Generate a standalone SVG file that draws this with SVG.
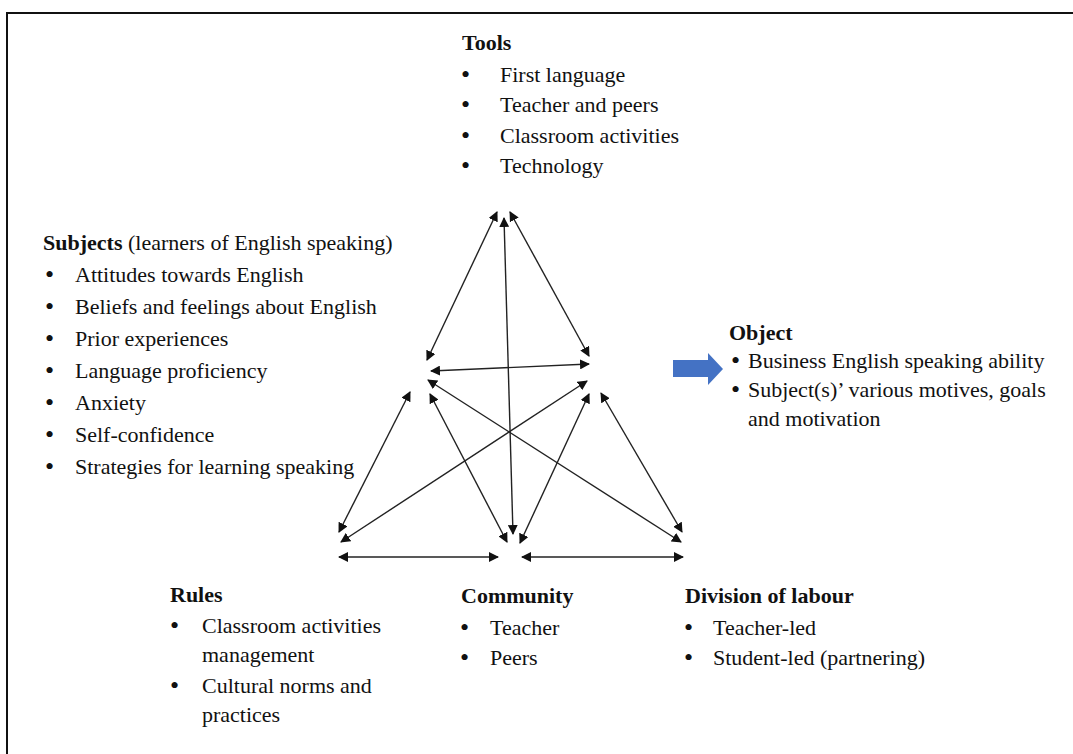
<svg xmlns="http://www.w3.org/2000/svg" width="1073" height="754" viewBox="0 0 1073 754">
<style>
text{font-family:"Liberation Serif","Times New Roman",serif;font-size:22px;fill:#111}
.h{font-weight:bold}
.b{font-size:26px}
.c{stroke:#222;stroke-width:1.4;fill:none;marker-start:url(#ah);marker-end:url(#ah)}
</style>
<defs>
<marker id="ah" viewBox="0 0 10 10" refX="9" refY="5" markerWidth="10" markerHeight="10" markerUnits="userSpaceOnUse" orient="auto-start-reverse">
<path d="M0,0 L10,5 L0,10 z" fill="#111"/>
</marker>
</defs>
<rect x="0" y="0" width="1073" height="754" fill="#fff"/>
<rect x="7" y="13" width="1090" height="760" fill="none" stroke="#111" stroke-width="2"/>

<g id="tools">
<text class="h" x="462" y="50">Tools</text>
<text class="b" x="461" y="83">•</text><text x="500" y="82">First language</text>
<text class="b" x="461" y="113">•</text><text x="500" y="112">Teacher and peers</text>
<text class="b" x="461" y="144">•</text><text x="500" y="143">Classroom activities</text>
<text class="b" x="461" y="174">•</text><text x="500" y="173">Technology</text>
</g>

<g id="subjects">
<text x="43" y="250"><tspan class="h">Subjects</tspan> (learners of English speaking)</text>
<text class="b" x="45" y="283">•</text><text x="75" y="282">Attitudes towards English</text>
<text class="b" x="45" y="315">•</text><text x="75" y="314">Beliefs and feelings about English</text>
<text class="b" x="45" y="347">•</text><text x="75" y="346">Prior experiences</text>
<text class="b" x="45" y="379">•</text><text x="75" y="378">Language proficiency</text>
<text class="b" x="45" y="411">•</text><text x="75" y="410">Anxiety</text>
<text class="b" x="45" y="443">•</text><text x="75" y="442">Self-confidence</text>
<text class="b" x="45" y="475">•</text><text x="75" y="474">Strategies for learning speaking</text>
</g>

<g id="object">
<text class="h" x="729" y="340">Object</text>
<text class="b" x="731" y="369">•</text><text x="748" y="368">Business English speaking ability</text>
<text class="b" x="731" y="398">•</text><text x="748" y="397">Subject(s)’ various motives, goals</text>
<text x="748" y="426">and motivation</text>
</g>

<g id="rules">
<text class="h" x="170" y="602">Rules</text>
<text class="b" x="170" y="634">•</text><text x="202" y="633">Classroom activities</text>
<text x="202" y="662">management</text>
<text class="b" x="170" y="694">•</text><text x="202" y="693">Cultural norms and</text>
<text x="202" y="722">practices</text>
</g>

<g id="community">
<text class="h" x="461" y="603">Community</text>
<text class="b" x="460" y="636">•</text><text x="490" y="635">Teacher</text>
<text class="b" x="460" y="666">•</text><text x="490" y="665">Peers</text>
</g>

<g id="division">
<text class="h" x="685" y="603">Division of labour</text>
<text class="b" x="684" y="636">•</text><text x="713" y="635">Teacher-led</text>
<text class="b" x="684" y="666">•</text><text x="713" y="665">Student-led (partnering)</text>
</g>

<g id="arrow-object">
<path d="M673,360 L708,360 L708,353 L723,369 L708,385 L708,377 L673,377 z" fill="#4472C4"/>
</g>

<g id="connectors">
<line class="c" x1="497" y1="212" x2="427" y2="360"/>
<line class="c" x1="510" y1="212" x2="589" y2="356"/>
<line class="c" x1="504" y1="218" x2="513" y2="534"/>
<line class="c" x1="431" y1="371" x2="589" y2="364"/>
<line class="c" x1="410" y1="392" x2="339" y2="532"/>
<line class="c" x1="428" y1="380" x2="681" y2="542"/>
<line class="c" x1="430" y1="394" x2="507" y2="542"/>
<line class="c" x1="587" y1="381" x2="341" y2="542"/>
<line class="c" x1="589" y1="394" x2="520" y2="543"/>
<line class="c" x1="601" y1="393" x2="682" y2="532"/>
<line class="c" x1="339" y1="557" x2="498" y2="557"/>
<line class="c" x1="522" y1="557" x2="683" y2="557"/>
</g>
</svg>
